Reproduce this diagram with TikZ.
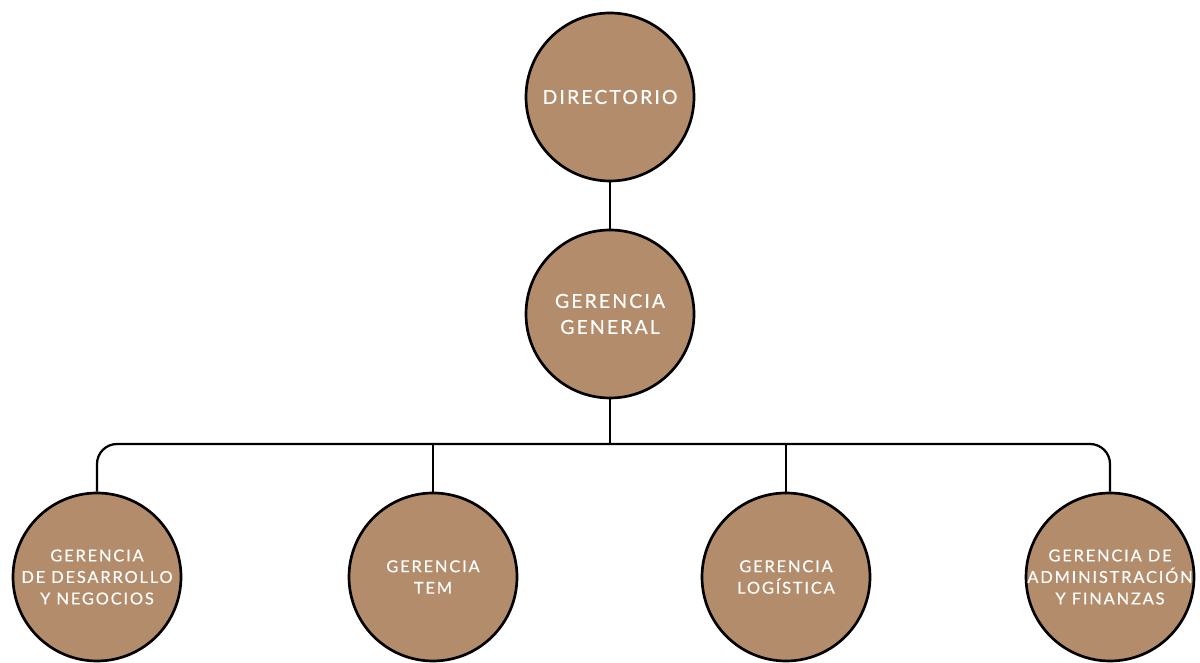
\documentclass[tikz,border=0pt]{standalone}
\usepackage{fontspec}
\newfontfamily\orgfont{Lato}[LetterSpace=11,FakeBold=0.4]
\definecolor{orgbrown}{HTML}{B38C6B}

\begin{document}
\begin{tikzpicture}[
        unit/.style={circle,draw=black,line width=1.9pt,fill=orgbrown,minimum size=4.2cm,inner sep=0pt},
        caption/.style={text=white,align=center,inner sep=0pt},
        big/.style={caption,font=\orgfont\fontsize{13.8}{18.5}\selectfont},
        small/.style={caption,font=\orgfont\fontsize{11.7}{15.3}\selectfont},
        link/.style={line width=1.6pt,black}
    ]
        \useasboundingbox (0,0) rectangle (30,16.575);

        % Define the nodes
        \node[unit,label={[big]center:DIRECTORIO}] (dir) at (15.25,14.15) {};
        \node[unit,label={[big]center:{GERENCIA\\GENERAL}}] (gg) at (15.25,8.725) {};
        \coordinate (bus) at (15.25,5.475);
        \node[unit,label={[small]center:{GERENCIA\\DE DESARROLLO\\Y NEGOCIOS}}] (desa) at (2.425,2.15) {};
        \node[unit,label={[small]center:{GERENCIA\\TEM}}] (tem) at (10.825,2.15) {};
        \node[unit,label={[small]center:{GERENCIA\\LOGÍSTICA}}] (log) at (19.65,2.15) {};
        \node[unit,label={[small]center:{GERENCIA DE\\ADMINISTRACIÓN\\Y FINANZAS}}] (admin) at (27.75,2.15) {};

        % Connect the units
        \draw[link] (dir) -- (gg);
        \draw[link] (gg) -- (bus);
        \draw[link,rounded corners=0.5cm] (desa) -- (desa |- bus) -- (admin |- bus) -- (admin);
        \draw[link] (tem) -- (tem |- bus);
        \draw[link] (log) -- (log |- bus);
    \end{tikzpicture}
\end{document}
